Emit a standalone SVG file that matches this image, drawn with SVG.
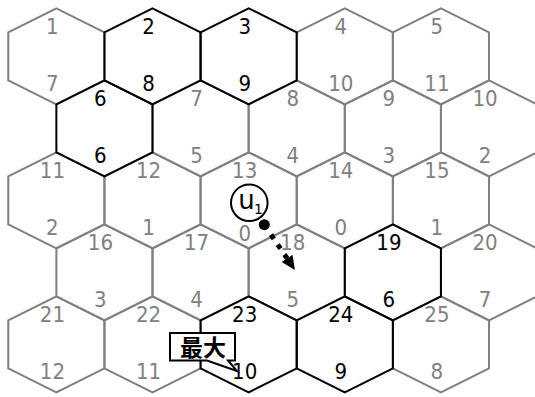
<svg xmlns="http://www.w3.org/2000/svg" xmlns:xlink="http://www.w3.org/1999/xlink" width="535" height="397" viewBox="0 0 535 397">
<style>
.g{fill:none;stroke:#808080;stroke-width:2;stroke-linejoin:miter}
.b{fill:none;stroke:#000;stroke-width:2;stroke-linejoin:miter}
text{font-family:"Liberation Sans Narrow","DejaVu Sans Condensed","DejaVu Sans",sans-serif;font-size:22px;text-anchor:middle}
.lg{fill:#808080}
.lb{fill:#000}
.u{font-family:"DejaVu Sans",sans-serif;font-size:26px;fill:#000}
.us{font-family:"DejaVu Sans",sans-serif;font-size:14px;fill:#000}
.cj{font-family:"Noto Sans CJK JP","Noto Sans CJK SC",sans-serif;font-size:23px;font-weight:bold;fill:#000}
</style>
<defs>
<polygon id="hex" points="0,-48 48.07,-24 48.07,24 0,48 -48.07,24 -48.07,-24"/>
<marker id="ah" markerUnits="userSpaceOnUse" markerWidth="16" markerHeight="14" refX="0" refY="0" viewBox="0 -7 16 14" orient="auto">
<path d="M0,-6.5 L14,0 L0,6.5 Z" fill="#000"/>
</marker>
</defs>
<rect width="535" height="397" fill="#fff"/>
<!-- gray hexes -->
<g id="n1"><use xlink:href="#hex" href="#hex" x="56.37" y="56.3" class="g"/><text class="lg" x="52.4" y="33.5">1</text><text class="lg" x="52.4" y="90.7">7</text></g>
<g id="n4"><use xlink:href="#hex" href="#hex" x="344.79" y="56.3" class="g"/><text class="lg" x="340.8" y="33.5">4</text><text class="lg" x="340.8" y="90.7">10</text></g>
<g id="n5"><use xlink:href="#hex" href="#hex" x="440.93" y="56.3" class="g"/><text class="lg" x="436.9" y="33.5">5</text><text class="lg" x="436.9" y="90.7">11</text></g>
<g id="n7"><use xlink:href="#hex" href="#hex" x="200.58" y="128.3" class="g"/><text class="lg" x="196.6" y="105.5">7</text><text class="lg" x="196.6" y="162.7">5</text></g>
<g id="n8"><use xlink:href="#hex" href="#hex" x="296.72" y="128.3" class="g"/><text class="lg" x="292.7" y="105.5">8</text><text class="lg" x="292.7" y="162.7">4</text></g>
<g id="n9"><use xlink:href="#hex" href="#hex" x="392.86" y="128.3" class="g"/><text class="lg" x="388.9" y="105.5">9</text><text class="lg" x="388.9" y="162.7">3</text></g>
<g id="n10"><use xlink:href="#hex" href="#hex" x="489" y="128.3" class="g"/><text class="lg" x="485" y="105.5">10</text><text class="lg" x="485" y="162.7">2</text></g>
<g id="n11"><use xlink:href="#hex" href="#hex" x="56.37" y="200.3" class="g"/><text class="lg" x="52.4" y="177.5">11</text><text class="lg" x="52.4" y="234.7">2</text></g>
<g id="n12"><use xlink:href="#hex" href="#hex" x="152.51" y="200.3" class="g"/><text class="lg" x="148.5" y="177.5">12</text><text class="lg" x="148.5" y="234.7">1</text></g>
<g id="n13"><use xlink:href="#hex" href="#hex" x="248.65" y="200.3" class="g"/><text class="lg" x="244.7" y="177.5">13</text><text class="lg" x="244.7" y="240.5">0</text></g>
<g id="n14"><use xlink:href="#hex" href="#hex" x="344.79" y="200.3" class="g"/><text class="lg" x="340.8" y="177.5">14</text><text class="lg" x="340.8" y="234.7">0</text></g>
<g id="n15"><use xlink:href="#hex" href="#hex" x="440.93" y="200.3" class="g"/><text class="lg" x="436.9" y="177.5">15</text><text class="lg" x="436.9" y="234.7">1</text></g>
<g id="n16"><use xlink:href="#hex" href="#hex" x="104.44" y="272.3" class="g"/><text class="lg" x="100.4" y="249.5">16</text><text class="lg" x="100.4" y="306.7">3</text></g>
<g id="n17"><use xlink:href="#hex" href="#hex" x="200.58" y="272.3" class="g"/><text class="lg" x="196.6" y="249.5">17</text><text class="lg" x="196.6" y="306.7">4</text></g>
<g id="n18"><use xlink:href="#hex" href="#hex" x="296.72" y="272.3" class="g"/><text class="lg" x="292.7" y="249.5">18</text><text class="lg" x="292.7" y="306.7">5</text></g>
<g id="n20"><use xlink:href="#hex" href="#hex" x="489" y="272.3" class="g"/><text class="lg" x="485" y="249.5">20</text><text class="lg" x="485" y="306.7">7</text></g>
<g id="n21"><use xlink:href="#hex" href="#hex" x="56.37" y="344.3" class="g"/><text class="lg" x="52.4" y="321.5">21</text><text class="lg" x="52.4" y="378.7">12</text></g>
<g id="n22"><use xlink:href="#hex" href="#hex" x="152.51" y="344.3" class="g"/><text class="lg" x="148.5" y="321.5">22</text><text class="lg" x="148.5" y="378.7">11</text></g>
<g id="n25"><use xlink:href="#hex" href="#hex" x="440.93" y="344.3" class="g"/><text class="lg" x="436.9" y="321.5">25</text><text class="lg" x="436.9" y="378.7">8</text></g>
<!-- black hexes -->
<g id="n2"><use xlink:href="#hex" href="#hex" x="152.51" y="56.3" class="b"/><text class="lb" x="148.5" y="33.5">2</text><text class="lb" x="148.5" y="90.7">8</text></g>
<g id="n3"><use xlink:href="#hex" href="#hex" x="248.65" y="56.3" class="b"/><text class="lb" x="244.7" y="33.5">3</text><text class="lb" x="244.7" y="90.7">9</text></g>
<g id="n6"><use xlink:href="#hex" href="#hex" x="104.44" y="128.3" class="b"/><text class="lb" x="100.4" y="105.5">6</text><text class="lb" x="100.4" y="162.7">6</text></g>
<g id="n19"><use xlink:href="#hex" href="#hex" x="392.86" y="272.3" class="b"/><text class="lb" x="388.9" y="249.5">19</text><text class="lb" x="388.9" y="306.7">6</text></g>
<g id="n23"><use xlink:href="#hex" href="#hex" x="248.65" y="344.3" class="b"/><text class="lb" x="244.7" y="321.5">23</text><text class="lb" x="244.7" y="378.7">10</text></g>
<g id="n24"><use xlink:href="#hex" href="#hex" x="344.79" y="344.3" class="b"/><text class="lb" x="340.8" y="321.5">24</text><text class="lb" x="340.8" y="378.7">9</text></g>
<!-- u1 node -->
<g id="u1">
<circle cx="249.3" cy="202.8" r="18.3" fill="#fff" stroke="#000" stroke-width="2"/>
<text class="u" x="246.5" y="208.8">u</text><text class="us" x="258.5" y="214.3">1</text>
</g>
<!-- callout -->
<g id="callout">
<path d="M170,333 H235 V360.5 H228 L237,371 L207,360.5 H170 Z" fill="#fff" stroke="#000" stroke-width="2" stroke-linejoin="miter"/>
<text class="cj" x="203" y="356">最大</text>
</g>
<!-- connectors -->
<g id="connectors">
<circle cx="264.3" cy="224.7" r="5.5" fill="#000"/>
<line x1="264.3" y1="224.7" x2="287.1" y2="258.4" stroke="#000" stroke-width="5" stroke-dasharray="5 7" marker-end="url(#ah)"/>
</g>
</svg>
